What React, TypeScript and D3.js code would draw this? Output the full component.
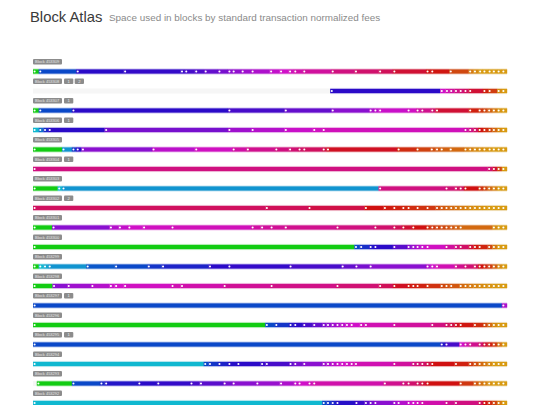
import React from "react";
import * as d3 from "d3";

const blockIds = [453309, 453308, 453307, 453306, 453305, 453304, 453303, 453302, 453301, 453300, 453299, 453298, 453297, 453296, 453295, 453294, 453293, 453292];
const badges = [[], ["1", "2"], ["1"], ["1"], [], ["1"], [], ["2"], [], [], [], [], ["1"], [], ["1"], [], [], []];

// segment start positions (kB of a 1000 kB block) and normalized fee level (0 lowest .. 10 highest)
const segStarts: number[][] = [
  [0, 12, 91, 191, 311, 320, 341, 361, 390, 411, 420, 439, 460, 499, 520, 539, 550, 569, 629, 678, 729, 759, 829, 839, 878, 919, 929, 940, 949, 960, 969, 979, 989],
  [627, 859, 870, 879, 889, 899, 909, 919, 949, 960, 979, 989],
  [0, 12, 82, 411, 530, 629, 709, 719, 729, 789, 808, 818, 839, 849, 919, 939, 949, 959, 969, 979, 989],
  [0, 12, 22, 32, 151, 411, 460, 530, 590, 610, 909, 919, 929, 939, 949, 960, 969, 979, 989],
  [0, 61, 82, 91, 102, 251, 341, 420, 450, 510, 539, 559, 569, 610, 619, 768, 808, 838, 849, 859, 878, 909, 919, 929, 939, 949, 960, 969, 979, 989],
  [0, 959, 969, 979, 989],
  [0, 52, 61, 729, 869, 889, 899, 909, 939, 949, 959, 969, 979, 989],
  [0, 490, 580, 699, 739, 759, 778, 789, 808, 829, 849, 859, 869, 879, 889, 899, 909, 919, 929, 939, 949, 959, 969, 979, 989],
  [0, 40, 161, 180, 200, 231, 291, 460, 480, 500, 530, 639, 719, 759, 778, 799, 829, 839, 849, 859, 869, 879, 889, 899, 969, 979, 989],
  [0, 678, 689, 709, 719, 759, 789, 799, 808, 818, 829, 869, 889, 899, 919, 929, 939, 959, 969, 979, 989],
  [0, 12, 22, 32, 112, 172, 241, 271, 370, 411, 540, 650, 679, 709, 829, 839, 849, 889, 909, 929, 939, 949, 959, 969, 979, 989],
  [0, 41, 72, 122, 161, 172, 191, 291, 311, 401, 500, 639, 729, 759, 789, 799, 808, 829, 859, 869, 879, 899, 909, 919, 929, 939, 949, 959, 969, 979, 989],
  [0, 989],
  [0, 490, 510, 540, 550, 569, 590, 610, 619, 629, 639, 649, 659, 669, 689, 699, 759, 839, 869, 879, 889, 899, 929, 949, 959, 969, 979, 989],
  [0, 859, 869, 899, 909, 919, 939, 949, 959, 969, 979, 989],
  [0, 360, 370, 390, 411, 430, 480, 490, 540, 550, 569, 610, 619, 629, 639, 649, 659, 669, 678, 759, 799, 808, 818, 829, 839, 889, 919, 929, 939, 949, 959, 969, 979, 989],
  [8, 82, 141, 151, 221, 261, 331, 351, 401, 420, 470, 520, 550, 559, 580, 590, 739, 778, 789, 808, 818, 829, 899, 929, 939, 949, 959, 969, 979, 989],
  [0, 610, 619, 629, 639, 679, 699, 709, 719, 759, 768, 789, 799, 808, 818, 869, 889, 939, 949, 959, 969, 979, 989],
];

const segFees: number[][] = [
  [0, 3, 4, 4.1, 4.2, 4.3, 4.4, 4.6, 4.8, 5, 5.1, 5.3, 5.5, 5.8, 6, 6.2, 6.4, 6.6, 7, 7.3, 7.6, 7.8, 8, 8.1, 9, 9.6, 9.8, 10, 10, 10, 10, 10, 10],
  [4, 6, 6.3, 6.6, 6.9, 7.2, 7.5, 7.8, 8.3, 8.8, 9.8, 10],
  [0, 3, 4, 4.3, 4.6, 5, 5.5, 5.7, 5.9, 6.1, 6.5, 6.8, 7.3, 7.8, 8.3, 8.7, 9, 9.3, 9.6, 9.9, 10],
  [1, 2.5, 3.5, 4, 4.8, 5.3, 5.6, 5.9, 6.1, 6.2, 6.5, 7, 7.5, 8, 8.5, 9, 9.4, 9.8, 10],
  [0, 2, 3.3, 4, 5, 5.7, 6.1, 6.5, 6.8, 7, 7.2, 7.4, 7.5, 7.7, 7.9, 8.5, 8.9, 9.1, 9.2, 9.3, 9.4, 9.6, 9.7, 9.8, 9.85, 9.9, 9.95, 10, 10, 10],
  [7, 7.3, 7.8, 9, 10],
  [0, 1, 2, 7, 7.2, 7.4, 7.6, 8, 8.6, 9, 9.4, 9.7, 10, 10],
  [7.5, 7.6, 7.7, 8, 8.2, 8.3, 8.4, 8.5, 8.6, 8.7, 9, 9.2, 9.3, 9.4, 9.5, 9.6, 9.7, 9.8, 9.85, 9.9, 9.95, 10, 10, 10, 10],
  [0, 5, 5.6, 5.8, 6, 6.1, 6.2, 6.5, 6.6, 6.7, 6.8, 7, 7.3, 7.6, 7.8, 8, 8.5, 8.7, 8.9, 9, 9.1, 9.2, 9.3, 9.4, 9.8, 10, 10],
  [0, 3, 3.4, 3.8, 4, 4.5, 5, 5.3, 5.6, 5.9, 6.1, 6.6, 7, 7.4, 7.8, 8.1, 8.4, 9, 9.6, 10, 10],
  [0, 1, 1.5, 2, 2.8, 3, 3.3, 3.6, 4, 4.1, 4.3, 4.6, 4.8, 5, 5.6, 6, 6.3, 6.8, 7.2, 7.6, 8, 8.4, 8.8, 9.3, 9.8, 10],
  [0, 5, 5.3, 5.6, 5.9, 6, 6.1, 6.3, 6.4, 6.7, 6.9, 7.2, 7.6, 7.9, 8.1, 8.2, 8.3, 8.6, 9, 9.1, 9.2, 9.4, 9.5, 9.6, 9.7, 9.8, 9.85, 9.9, 9.95, 10, 10],
  [3, 5.5],
  [0, 3, 3.3, 3.8, 4, 4.3, 4.6, 4.9, 5.1, 5.3, 5.5, 5.7, 5.9, 6, 6.2, 6.3, 6.6, 7, 7.5, 7.7, 7.9, 8.1, 8.5, 9, 9.4, 9.8, 10, 10],
  [3, 3.8, 4.3, 6, 6.4, 6.8, 7.3, 7.8, 8.3, 8.8, 9.5, 10],
  [1, 3, 3.3, 3.6, 3.9, 4, 4.2, 4.3, 4.6, 4.8, 5, 5.3, 5.5, 5.7, 5.9, 6, 6.1, 6.2, 6.3, 6.6, 7, 7.2, 7.4, 7.7, 8, 8.3, 8.8, 9.1, 9.4, 9.6, 9.8, 10, 10, 10],
  [0, 3, 3.5, 3.8, 4, 4.1, 4.3, 4.5, 4.8, 5, 5.2, 5.5, 5.8, 6, 6.2, 6.4, 6.8, 7.1, 7.3, 7.6, 7.8, 8, 8.7, 9.2, 9.5, 9.7, 9.9, 10, 10, 10],
  [1, 3, 3.3, 3.6, 3.9, 4.2, 4.5, 4.8, 5, 5.3, 5.6, 5.9, 6, 6.2, 6.4, 6.8, 7, 7.6, 8, 8.5, 9, 9.6, 10],
];

const BLOCK_SIZE = 1000;

export default function App() {
  const W = 540, H = 405;
  const x = d3.scaleLinear().domain([0, BLOCK_SIZE]).range([33, 507]);
  const row = d3.scaleLinear().domain([0, blockIds.length - 1]).range([59, 390.5]);
  const color = d3
    .scaleLinear<string>()
    .domain([0, 1, 2, 3, 4, 5, 6, 7, 7.6, 8, 9, 10])
    .range(["#12cc12", "#10b8d0", "#1094d0", "#0a48c8", "#2a0ac8", "#8a10d0", "#d010c8", "#d01080", "#d01058", "#d01010", "#d04810", "#d89a10"])
    .interpolate(d3.interpolateRgb)
    .clamp(true);

  return (
    <svg width={W} height={H} style={{ position: "absolute", left: 0, top: 0, background: "#fff" }} fontFamily="Liberation Sans, Arial, sans-serif">
      <text x={30} y={22} fontSize={14.8} fill="#3a3a3a">Block Atlas</text>
      <text x={109} y={21} fontSize={9.9} fill="#8a8a8a">Space used in blocks by standard transaction normalized fees</text>
      {blockIds.map((id, i) => {
        const ly = row(i);
        const by = ly + 10;
        const starts = segStarts[i];
        const fees = segFees[i];
        return (
          <g key={id}>
            <rect x={33} y={ly} width={29} height={5.5} rx={1} fill="#8c8c8c" />
            <text x={35} y={ly + 4.2} fontSize={4} fill="#e8e8e8">Block {id}</text>
            {badges[i].map((b, j) => (
              <g key={j}>
                <rect x={64 + j * 10.7} y={ly} width={9.3} height={5.5} rx={1} fill="#8c8c8c" />
                <text x={68.6 + j * 10.7} y={ly + 4.3} fontSize={4.2} textAnchor="middle" fill="#f0f0f0">{b}</text>
              </g>
            ))}
            <rect x={x(0)} y={by} width={x(BLOCK_SIZE) - x(0)} height={5} fill="#f6f6f6" />
            {starts.map((s, k) => {
              const e = k + 1 < starts.length ? starts[k + 1] : BLOCK_SIZE;
              const c = color(fees[k]);
              return (
                <g key={k}>
                  <rect x={x(s)} y={by - 0.6} width={x(e) - x(s)} height={6.2} fill={c} opacity={0.22} />
                  <rect x={x(s)} y={by + 0.4} width={x(e) - x(s) + 0.2} height={4.2} fill={c} />
                </g>
              );
            })}
            {starts.map((s, k) => (
              <circle key={"d" + k} cx={x(s) + 1.6} cy={by + 2.5} r={1.05} fill="#fff" />
            ))}
          </g>
        );
      })}
    </svg>
  );
}
